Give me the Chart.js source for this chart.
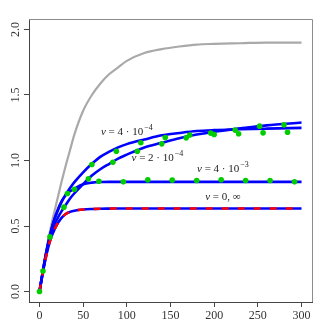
<!DOCTYPE html>
<html>
<head>
<meta charset="utf-8">
<script src="https://cdn.jsdelivr.net/npm/chart.js@4.4.0/dist/chart.umd.min.js"></script>
<style>
  html, body { margin: 0; padding: 0; background: #fff; }
</style>
</head>
<body>
<canvas id="chart" width="332" height="332"></canvas>
<script>
// --- data ---
const tCurve = [0, 4, 8, 12, 16, 20, 25, 30, 35, 40, 50, 60, 70, 80, 90, 100, 120, 140, 160, 180, 200, 230, 260, 300];

const curveGray = [0, 0.17, 0.32, 0.46, 0.58, 0.69, 0.83, 0.96, 1.08, 1.20, 1.38, 1.50, 1.59, 1.66, 1.71, 1.76, 1.82, 1.85, 1.87, 1.885, 1.89, 1.895, 1.90, 1.90];
const curveV4e4 = [0, 0.16, 0.31, 0.43, 0.53, 0.60, 0.68, 0.74, 0.79, 0.835, 0.91, 0.975, 1.03, 1.068, 1.10, 1.125, 1.16, 1.192, 1.21, 1.225, 1.232, 1.238, 1.243, 1.249];
const curveV2e4 = [0, 0.155, 0.295, 0.41, 0.49, 0.55, 0.61, 0.66, 0.71, 0.75, 0.82, 0.885, 0.935, 0.975, 1.015, 1.045, 1.10, 1.135, 1.17, 1.198, 1.22, 1.245, 1.268, 1.29];
const curveV4e3 = [0, 0.16, 0.305, 0.425, 0.53, 0.61, 0.685, 0.735, 0.765, 0.785, 0.818, 0.831, 0.836, 0.837, 0.837, 0.837, 0.837, 0.837, 0.837, 0.837, 0.837, 0.837, 0.837, 0.837];
const curveV0 = [0, 0.15, 0.28, 0.385, 0.455, 0.51, 0.56, 0.592, 0.608, 0.617, 0.626, 0.630, 0.632, 0.633, 0.634, 0.634, 0.634, 0.634, 0.634, 0.634, 0.634, 0.634, 0.634, 0.634];

// green points, one run per curve
const dotsT1 = [0, 28, 56, 84, 112, 140, 168, 196, 224, 252, 280];
const dotsV1 = [0, 0.644, 0.86, 0.987, 1.071, 1.127, 1.173, 1.209, 1.232, 1.262, 1.272];
const dotsT2 = [4, 32, 60, 88, 116, 144, 172, 200, 228, 256, 284];
const dotsV2 = [0.157, 0.748, 0.969, 1.071, 1.135, 1.175, 1.195, 1.198, 1.204, 1.211, 1.216];
const dotsT3 = [12, 40, 68, 96, 124, 152, 180, 208, 236, 264, 292];
const dotsV3 = [0.417, 0.78, 0.842, 0.837, 0.852, 0.85, 0.847, 0.853, 0.847, 0.847, 0.837];

const xTicks = [0, 50, 100, 150, 200, 250, 300];
const yTicks = [0, 0.5, 1.0, 1.5, 2.0];

function pts(ts, vs) {
  return ts.map((t, i) => ({ x: t, y: vs[i] }));
}

const dots = pts(dotsT1, dotsV1).concat(pts(dotsT2, dotsV2), pts(dotsT3, dotsV3));

// curve labels (text + where it sits, in data units)
const curveLabels = [
  { t: 100, v: 1.216, base: '4 · 10', exp: '−4' },
  { t: 135, v: 1.02,  base: '2 · 10', exp: '−4' },
  { t: 210, v: 0.936, base: '4 · 10', exp: '−3' },
  { t: 210, v: 0.717, base: '0, ∞',   exp: '' }
];

const SERIF = '"Liberation Serif", "DejaVu Serif", serif';

const labelPlugin = {
  id: 'curveLabels',
  afterDatasetsDraw(chart) {
    const { ctx, scales: { x, y } } = chart;
    ctx.save();
    ctx.fillStyle = '#222';
    ctx.textBaseline = 'middle';
    ctx.textAlign = 'left';
    curveLabels.forEach(l => {
      const px = x.getPixelForValue(l.t);
      const py = y.getPixelForValue(l.v);
      const fIt = 'italic 11px ' + SERIF;
      const fN = '11px ' + SERIF;
      const fS = '8px ' + SERIF;
      ctx.font = fIt; const w1 = ctx.measureText('v').width;
      ctx.font = fN;  const w2 = ctx.measureText(' = ').width;
      const w3 = ctx.measureText(l.base).width;
      ctx.font = fS;  const w4 = l.exp ? ctx.measureText(l.exp).width + 1 : 0;
      let cx = px - (w1 + w2 + w3 + w4) / 2;
      ctx.font = fIt; ctx.fillText('v', cx, py); cx += w1;
      ctx.font = fN;  ctx.fillText(' = ', cx, py); cx += w2;
      ctx.fillText(l.base, cx, py); cx += w3;
      if (l.exp) { ctx.font = fS; ctx.fillText(l.exp, cx + 1, py - 4); }
    });
    ctx.restore();
  }
};

const framePlugin = {
  id: 'frame',
  afterDraw(chart) {
    const { ctx, chartArea: a } = chart;
    ctx.save();
    ctx.strokeStyle = '#8c8c8c';
    ctx.lineWidth = 1;
    ctx.beginPath();
    ctx.moveTo(a.left, a.top + 0.5);
    ctx.lineTo(a.right + 0.5, a.top + 0.5);
    ctx.lineTo(a.right + 0.5, a.bottom);
    ctx.stroke();
    ctx.restore();
  }
};

const blueLine = {
  borderColor: '#0000ff',
  borderWidth: 2.6,
  pointRadius: 0,
  fill: false,
  cubicInterpolationMode: 'monotone'
};

new Chart(document.getElementById('chart'), {
  type: 'line',
  data: {
    datasets: [
      {
        label: 'points',
        data: dots,
        showLine: false,
        pointRadius: 2.8,
        pointBackgroundColor: '#00cd00',
        pointBorderWidth: 0
      },
      {
        label: 'v = 0, inf (red)',
        data: pts(tCurve, curveV0),
        borderColor: '#ff0000',
        borderWidth: 2.6,
        borderDash: [7, 9],
        pointRadius: 0,
        fill: false,
        cubicInterpolationMode: 'monotone'
      },
      Object.assign({ label: 'v = 0', data: pts(tCurve, curveV0) }, blueLine),
      Object.assign({ label: 'v = 4e-3', data: pts(tCurve, curveV4e3) }, blueLine),
      Object.assign({ label: 'v = 2e-4', data: pts(tCurve, curveV2e4) }, blueLine),
      Object.assign({ label: 'v = 4e-4', data: pts(tCurve, curveV4e4) }, blueLine),
      {
        label: 'gray',
        data: pts(tCurve, curveGray),
        borderColor: '#a9a9a9',
        borderWidth: 2.2,
        pointRadius: 0,
        fill: false,
        cubicInterpolationMode: 'monotone'
      }
    ]
  },
  options: {
    responsive: false,
    animation: false,
    devicePixelRatio: 1,
    layout: { padding: { left: 0, top: 19, right: 20, bottom: 0 } },
    plugins: {
      legend: { display: false },
      tooltip: { enabled: false }
    },
    scales: {
      x: {
        type: 'linear',
        min: -12,
        max: 312,
        afterFit: s => { s.height = 30; },
        afterBuildTicks: s => { s.ticks = xTicks.map(v => ({ value: v })); },
        grid: { drawOnChartArea: false, drawTicks: true, tickLength: 5, color: '#444' },
        border: { display: true, color: '#444', width: 1 },
        ticks: {
          padding: 2,
          maxRotation: 0,
          color: '#333',
          font: { family: SERIF, size: 12 },
          callback: v => String(v)
        }
      },
      y: {
        type: 'linear',
        min: -0.08,
        max: 2.08,
        afterFit: s => { s.width = 29; },
        afterBuildTicks: s => { s.ticks = yTicks.map(v => ({ value: v })); },
        grid: { drawOnChartArea: false, drawTicks: true, tickLength: 5, color: '#444' },
        border: { display: true, color: '#444', width: 1 },
        ticks: {
          padding: 1,
          minRotation: 90,
          maxRotation: 90,
          crossAlign: 'center',
          color: '#333',
          font: { family: SERIF, size: 12 },
          callback: v => Number(v).toFixed(1)
        }
      }
    }
  },
  plugins: [labelPlugin, framePlugin]
});
</script>
</body>
</html>
